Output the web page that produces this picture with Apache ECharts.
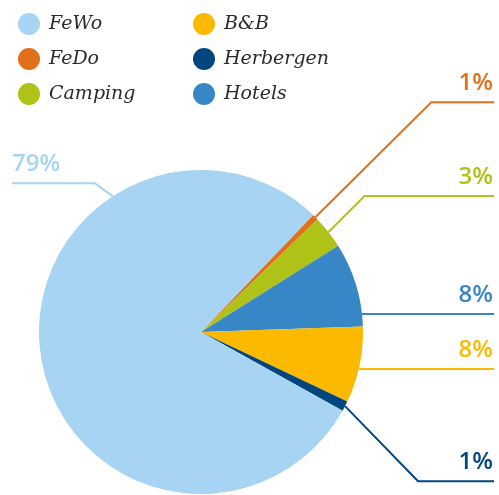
<!DOCTYPE html>
<html>
<head>
<meta charset="utf-8">
<script src="https://cdn.jsdelivr.net/npm/echarts@6/dist/echarts.min.js"></script>
<style>
html,body{margin:0;padding:0;background:#fff;}
#chart{width:499px;height:495px;}
</style>
</head>
<body>
<div id="chart"></div>
<script>
// ---- data ----
var categories = ['FeDo', 'Camping', 'Hotels', 'B&B', 'Herbergen', 'FeWo'];
var values = [0.6, 3.3, 8.4, 7.6, 1.0, 79.1];
var legendCol1 = ['FeWo', 'FeDo', 'Camping'];
var legendCol2 = ['B&B', 'Herbergen', 'Hotels'];

// ---- styles ----
var colors = ['#e0701a', '#afc218', '#3787c6', '#fbba00', '#02467f', '#a6d4f2'];
// label-line anchor angle (deg, null = slice middle) and elbow offset [dx, dy]
var anchorAngles = [null, null, 6.4, -13.2, null, 123];
var elbows = [[116, -115], [36, -36], null, null, [73, 75], [-18, -13]];

var CX = 201, CY = 332, R = 162;

var chart = echarts.init(document.getElementById('chart'), null, {renderer: 'canvas'});

var legendText = {
  fontFamily: 'DejaVu Serif',
  fontStyle: 'italic',
  fontSize: 19,
  color: '#2b2b2b',
  padding: [0, 0, 0, 4]
};

var data = categories.map(function (c, i) {
  return {name: c, value: values[i], itemStyle: {color: colors[i]},
          label: {color: colors[i]}, labelLine: {lineStyle: {color: colors[i]}}};
});

chart.setOption({
  animation: false,
  legend: [{
    data: legendCol1, orient: 'vertical', left: 13, top: 8,
    icon: 'circle', itemWidth: 22, itemHeight: 22, itemGap: 13,
    textStyle: legendText, selectedMode: false
  }, {
    data: legendCol2, orient: 'vertical', left: 188, top: 8,
    icon: 'circle', itemWidth: 22, itemHeight: 22, itemGap: 13,
    textStyle: legendText, selectedMode: false
  }],
  series: [{
    type: 'pie',
    center: [CX, CY],
    radius: R,
    startAngle: 46.2,
    clockwise: true,
    data: data,
    label: {
      show: true,
      position: 'outside',
      width: 70,
      overflow: 'none',
      fontFamily: 'Open Sans',
      fontWeight: 600,
      fontSize: 24,
      formatter: function (p) { return Math.round(p.percent) + '%'; }
    },
    labelLine: {show: true, length: 10, length2: 10, lineStyle: {width: 2}},
    emphasis: {disabled: true},
    labelLayout: function (p) {
      var i = p.dataIndex;
      var start;
      if (anchorAngles[i] == null) {
        start = p.labelLinePoints[0].slice();
      } else {
        var a = anchorAngles[i] * Math.PI / 180;
        start = [CX + R * Math.cos(a), CY - R * Math.sin(a)];
      }
      var pts = [start];
      var elbow = start;
      if (elbows[i]) {
        elbow = [start[0] + elbows[i][0], start[1] + elbows[i][1]];
        pts.push(elbow);
      }
      var right = start[0] > CX;
      var W = chart.getWidth();
      var endX = right ? W - 5 : 12;
      pts.push([endX, elbow[1]]);
      return {
        x: right ? W - 6 : 12,
        y: elbow[1] - 19,
        align: right ? 'right' : 'left',
        verticalAlign: 'middle',
        labelLinePoints: pts
      };
    }
  }]
});
</script>
</body>
</html>
